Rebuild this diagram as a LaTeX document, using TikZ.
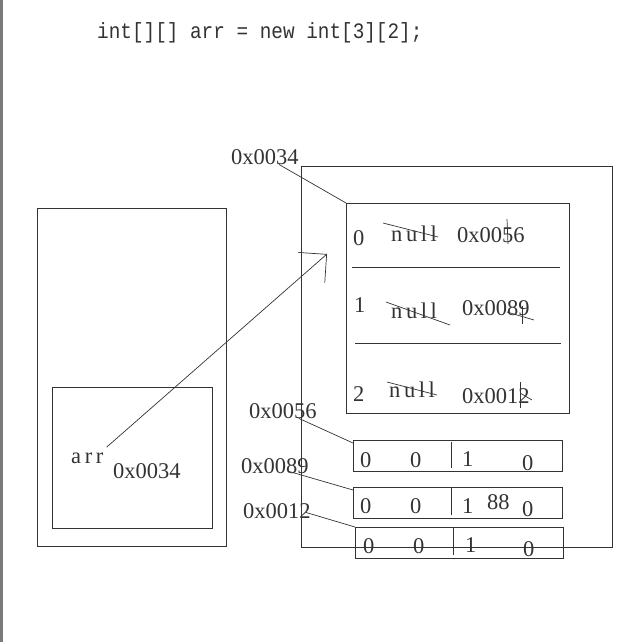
\documentclass[tikz,border=0pt]{standalone}
\usepackage{fontspec}
\setmainfont{Liberation Serif}
\newfontfamily\codefont[FakeStretch=0.88]{Liberation Mono}
\usetikzlibrary{arrows.meta}
\definecolor{InkGray}{HTML}{333333}
\definecolor{EdgeGray}{HTML}{7A7A7A}

\tikzset{
  box/.style={draw=InkGray, line width=0.9pt, anchor=north west, inner sep=0pt},
  val/.style={font=\fontsize{22.5}{22.5}\selectfont, text=InkGray, anchor=base west, inner sep=0pt},
  wideval/.style={val, font=\fontsize{22.5}{22.5}\selectfont\addfontfeature{LetterSpace=16}},
  strike/.style={InkGray, line width=0.7pt},
  wire/.style={InkGray, line width=0.7pt},
}

\begin{document}
\begin{tikzpicture}[x=1pt,y=-1pt]
  \useasboundingbox (0,0) rectangle (625,642);
  % screen edge
  \fill[EdgeGray] (0,0) rectangle (2.5,642);

  % declaration
  \node[anchor=base west, inner sep=0pt, text=InkGray,
        font=\codefont\fontsize{22}{22}\selectfont] (decl) at (97,38)
    {int[][] arr = new int[3][2];};

  % stack
  \node[box, minimum width=189pt, minimum height=338pt] (stack) at (37,208) {};
  \node[box, minimum width=160pt, minimum height=141pt] (frame) at (52,387) {};
  \node[wideval] (arr) at (71,463) {arr};
  \node[val] (arrval) at (113,478) {0x0034};

  % heap
  \node[box, minimum width=311pt, minimum height=381pt] (heap) at (301,166) {};
  \node[box, minimum width=223pt, minimum height=210pt] (rows) at (346,203) {};
  \draw[wire] (352,267) -- (560,267);
  \draw[wire] (355,343) -- (561,343);

  % outer array slots
  \node[val] (idx0) at (353,245) {0};
  \node[wideval] (null0) at (391,241) {null};
  \node[val] (ref0) at (457,242) {0x0056};
  \node[val] (idx1) at (354,312) {1};
  \node[wideval] (null1) at (391,318) {null};
  \node[val] (ref1) at (462,315) {0x0089};
  \node[val] (idx2) at (353,401) {2};
  \node[wideval] (null2) at (389,397) {null};
  \node[val] (ref2) at (462,403) {0x0012};

  % crossed out values
  \draw[strike] (383,223) -- (438,237);
  \draw[strike] (507,219) -- (508,244);
  \draw[strike] (386,302) -- (450,325);
  \draw[strike] (507,312) -- (534,320);
  \draw[strike] (522,306) -- (522,324);
  \draw[strike] (387,382) -- (437,395);
  \draw[strike] (520,382) -- (520,408);
  \draw[strike] (520,393) -- (532,400);

  % inner arrays
  \node[box, minimum width=209pt, minimum height=31pt] (arrA) at (353,440) {};
  \node[box, minimum width=209pt, minimum height=31pt] (arrB) at (353,487) {};
  \node[box, minimum width=208pt, minimum height=31pt] (arrC) at (355,527) {};
  \draw[wire, line width=0.9pt] (451,442) -- (451,468);
  \draw[wire, line width=0.9pt] (451,488) -- (451,515);
  \draw[wire, line width=0.9pt] (453,528) -- (453,555);

  \foreach \x/\y/\v [count=\i] in {360/467/0, 410/467/0, 462/466/1, 522/470/0}
    \node[val] (va\i) at (\x,\y) {\v};
  \foreach \x/\y/\v [count=\i] in {360/513/0, 410/513/0, 462/513/1, 487/509/88, 522/516/0}
    \node[val] (vb\i) at (\x,\y) {\v};
  \foreach \x/\y/\v [count=\i] in {363/553/0, 413/553/0, 465/552/1, 523/556/0}
    \node[val] (vc\i) at (\x,\y) {\v};

  % addresses
  \node[val] (lbl34) at (231,164) {0x0034};
  \node[val] (lbl56) at (249,418) {0x0056};
  \node[val] (lbl89) at (241,473) {0x0089};
  \node[val] (lbl12) at (243,518) {0x0012};

  \draw[wire] ([xshift=-20pt]lbl34.south east) -- (rows.north west);
  \draw[wire] ([xshift=-18pt]lbl56.south east) -- ([yshift=-3pt]arrA.north west);
  \draw[wire] ([xshift=-20pt,yshift=2pt]lbl89.south east) -- ([yshift=-3pt]arrB.north west);
  \draw[wire] ([xshift=-5pt,yshift=6pt]lbl12.south east) -- (arrC.north west);

  % reference
  \coordinate (tip) at (327,254);
  \draw[wire, -{Straight Barb[length=20pt,width=40pt]}]
    ([xshift=3pt,yshift=5pt]arr.north east) -- (tip);
\end{tikzpicture}
\end{document}
